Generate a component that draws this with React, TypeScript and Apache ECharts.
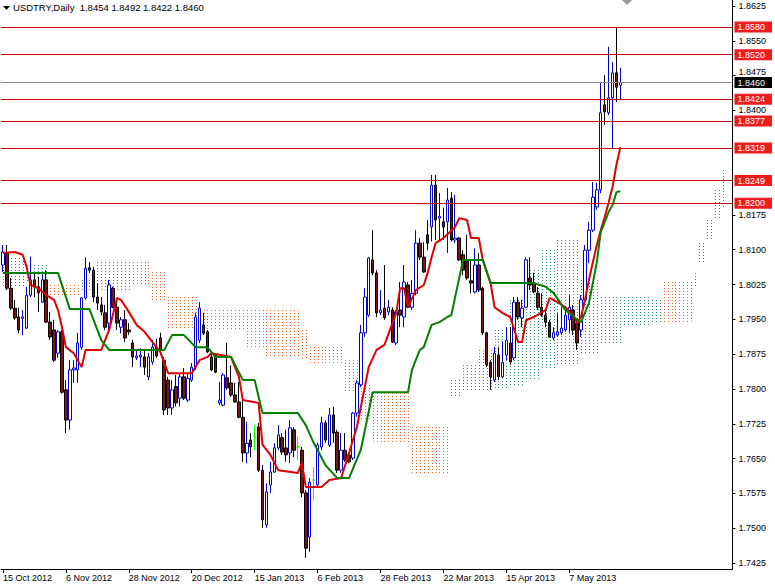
import React, { useEffect, useRef } from 'react';
import * as echarts from 'echarts';

// ---- data ----
const symbolTitle = 'USDTRY,Daily  1.8454 1.8492 1.8422 1.8460';
const firstDate = '2012-10-15';
const holidays = ['2012-12-25', '2013-01-01'];
const totalBars = 186; // 158 candles + forward-shifted cloud room
const dateLabelIdx = [0, 16, 32, 48, 64, 80, 96, 112, 128, 144];

// [open, close, low, high]
const candles: number[][] = [
  [1.8067, 1.8095, 1.8052, 1.8110], [1.8092, 1.8017, 1.8013, 1.8110], [1.8017, 1.7974, 1.7970, 1.8039],
  [1.7974, 1.7953, 1.7949, 1.7992], [1.7955, 1.7927, 1.7920, 1.7975], [1.7952, 1.7955, 1.7916, 1.7970],
  [1.7931, 1.8002, 1.7929, 1.8020], [1.8002, 1.8035, 1.7998, 1.8085], [1.8035, 1.8020, 1.7998, 1.8050],
  [1.8020, 1.8007, 1.7966, 1.8042], [1.7987, 1.8035, 1.7985, 1.8046], [1.8035, 1.7944, 1.7942, 1.8056],
  [1.7944, 1.7912, 1.7906, 1.7966], [1.7927, 1.7862, 1.7858, 1.7949], [1.7877, 1.7923, 1.7867, 1.7927],
  [1.7923, 1.7793, 1.7790, 1.7927], [1.7798, 1.7733, 1.7705, 1.7819], [1.7733, 1.7841, 1.7712, 1.7862],
  [1.7841, 1.7845, 1.7813, 1.7862], [1.7841, 1.7899, 1.7813, 1.7921], [1.7890, 1.7996, 1.7884, 1.7998],
  [1.7996, 1.8060, 1.7992, 1.8084], [1.8061, 1.8056, 1.8050, 1.8073], [1.8056, 1.7998, 1.7987, 1.8063],
  [1.7998, 1.7985, 1.7970, 1.8028], [1.7981, 1.7966, 1.7959, 1.7998], [1.7964, 1.7933, 1.7927, 1.7981],
  [1.7942, 1.8024, 1.7927, 1.8035], [1.8017, 1.7976, 1.7974, 1.8020], [1.7976, 1.7942, 1.7927, 1.7985],
  [1.7933, 1.7949, 1.7920, 1.7955], [1.7949, 1.7910, 1.7901, 1.7970], [1.7927, 1.7923, 1.7916, 1.7942],
  [1.7899, 1.7869, 1.7847, 1.7906], [1.7867, 1.7871, 1.7862, 1.7884], [1.7869, 1.7873, 1.7847, 1.7888],
  [1.7869, 1.7847, 1.7830, 1.7884], [1.7826, 1.7869, 1.7819, 1.7877], [1.7858, 1.7890, 1.7852, 1.7905],
  [1.7890, 1.7871, 1.7867, 1.7908], [1.7910, 1.7884, 1.7873, 1.7921], [1.7862, 1.7755, 1.7744, 1.7869],
  [1.7819, 1.7759, 1.7744, 1.7826], [1.7759, 1.7798, 1.7744, 1.7819], [1.7805, 1.7770, 1.7762, 1.7830],
  [1.7780, 1.7826, 1.7762, 1.7834], [1.7826, 1.7780, 1.7776, 1.7845], [1.7776, 1.7823, 1.7772, 1.7836],
  [1.7819, 1.7847, 1.7815, 1.7856], [1.7847, 1.7955, 1.7841, 1.7964], [1.7905, 1.7974, 1.7899, 1.7987],
  [1.7938, 1.7920, 1.7916, 1.7964], [1.7923, 1.7880, 1.7877, 1.7927], [1.7869, 1.7841, 1.7838, 1.7880],
  [1.7873, 1.7836, 1.7834, 1.7877], [1.7770, 1.7776, 1.7765, 1.7815], [1.7765, 1.7830, 1.7763, 1.7834],
  [1.7824, 1.7802, 1.7798, 1.7899], [1.7813, 1.7787, 1.7783, 1.7851], [1.7787, 1.7772, 1.7770, 1.7813],
  [1.7772, 1.7739, 1.7737, 1.7815], [1.7739, 1.7662, 1.7643, 1.7782], [1.7662, 1.7683, 1.7640, 1.7729],
  [1.7690, 1.7675, 1.7653, 1.7705], [1.7697, 1.7697, 1.7668, 1.7722], [1.7718, 1.7625, 1.7621, 1.7727],
  [1.7625, 1.7518, 1.7501, 1.7636], [1.7507, 1.7578, 1.7501, 1.7597], [1.7593, 1.7621, 1.7576, 1.7643],
  [1.7621, 1.7673, 1.7619, 1.7683], [1.7673, 1.7701, 1.7668, 1.7722], [1.7695, 1.7664, 1.7658, 1.7705],
  [1.7673, 1.7658, 1.7643, 1.7712], [1.7662, 1.7716, 1.7640, 1.7733], [1.7712, 1.7668, 1.7653, 1.7718],
  [1.7675, 1.7675, 1.7647, 1.7697], [1.7668, 1.7576, 1.7567, 1.7675], [1.7576, 1.7457, 1.7436, 1.7582],
  [1.7481, 1.7599, 1.7449, 1.7608], [1.7604, 1.7604, 1.7561, 1.7632], [1.7593, 1.7679, 1.7587, 1.7684],
  [1.7675, 1.7727, 1.7668, 1.7740], [1.7727, 1.7690, 1.7684, 1.7733], [1.7679, 1.7744, 1.7675, 1.7759],
  [1.7744, 1.7705, 1.7684, 1.7761], [1.7707, 1.7625, 1.7619, 1.7712], [1.7625, 1.7668, 1.7619, 1.7705],
  [1.7668, 1.7647, 1.7643, 1.7705], [1.7658, 1.7643, 1.7640, 1.7664], [1.7651, 1.7748, 1.7647, 1.7750],
  [1.7748, 1.7813, 1.7740, 1.7819], [1.7809, 1.7921, 1.7804, 1.7938], [1.7921, 1.7998, 1.7912, 1.8017],
  [1.7959, 1.8082, 1.7955, 1.8084], [1.8078, 1.8050, 1.8045, 1.8142], [1.8050, 1.7964, 1.7955, 1.8056],
  [1.7964, 1.7970, 1.7959, 1.8013], [1.7974, 1.7953, 1.7949, 1.8067], [1.7966, 1.7976, 1.7959, 1.7992],
  [1.7970, 1.7901, 1.7899, 1.7976], [1.7899, 1.7966, 1.7895, 1.7970], [1.7970, 1.7959, 1.7933, 1.8030],
  [1.7955, 1.8030, 1.7933, 1.8067], [1.8024, 1.7976, 1.7974, 1.8030], [1.7976, 1.8006, 1.7970, 1.8035],
  [1.8006, 1.8114, 1.8002, 1.8142], [1.8114, 1.8084, 1.8078, 1.8125], [1.8084, 1.8052, 1.8050, 1.8116],
  [1.8132, 1.8114, 1.8099, 1.8164], [1.8149, 1.8239, 1.8118, 1.8261], [1.8239, 1.8164, 1.8121, 1.8261],
  [1.8168, 1.8172, 1.8117, 1.8222], [1.8160, 1.8149, 1.8121, 1.8190], [1.8160, 1.8207, 1.8093, 1.8233],
  [1.8211, 1.8121, 1.8117, 1.8224], [1.8121, 1.8125, 1.8114, 1.8218], [1.8125, 1.8078, 1.8076, 1.8127],
  [1.8089, 1.8056, 1.8045, 1.8099], [1.8078, 1.8039, 1.8035, 1.8132], [1.8033, 1.8028, 1.8006, 1.8078],
  [1.8009, 1.8067, 1.8006, 1.8103], [1.8067, 1.8013, 1.8009, 1.8093], [1.8017, 1.7921, 1.7916, 1.8020],
  [1.7921, 1.7852, 1.7847, 1.7923], [1.7857, 1.7826, 1.7798, 1.7862], [1.7819, 1.7877, 1.7815, 1.7890],
  [1.7873, 1.7826, 1.7819, 1.7890], [1.7826, 1.7857, 1.7824, 1.7903], [1.7873, 1.7905, 1.7862, 1.7933],
  [1.7899, 1.7858, 1.7852, 1.7933], [1.7867, 1.7987, 1.7862, 1.7998], [1.7987, 1.7955, 1.7949, 1.7998],
  [1.7953, 1.7974, 1.7933, 1.7992], [1.7976, 1.8078, 1.7974, 1.8084], [1.8039, 1.8024, 1.8013, 1.8084],
  [1.8028, 1.8009, 1.8006, 1.8050], [1.8006, 1.7976, 1.7970, 1.8020], [1.7976, 1.7959, 1.7955, 1.8006],
  [1.7959, 1.7944, 1.7933, 1.7970], [1.7944, 1.7912, 1.7910, 1.7949], [1.7910, 1.7921, 1.7905, 1.7933],
  [1.7916, 1.7923, 1.7912, 1.7963], [1.7921, 1.7931, 1.7916, 1.7976], [1.7927, 1.7959, 1.7923, 1.7970],
  [1.7949, 1.7976, 1.7921, 1.8002], [1.7970, 1.7927, 1.7916, 1.7981], [1.7942, 1.7899, 1.7884, 1.7953],
  [1.7927, 1.7992, 1.7912, 1.8002], [1.7992, 1.8099, 1.7985, 1.8110], [1.8099, 1.8142, 1.8071, 1.8160],
  [1.8142, 1.8213, 1.8138, 1.8246], [1.8192, 1.8229, 1.8186, 1.8244], [1.8229, 1.8395, 1.8222, 1.8459],
  [1.8412, 1.8397, 1.8369, 1.8476], [1.8395, 1.8427, 1.8390, 1.8537], [1.8427, 1.8481, 1.8319, 1.8504],
  [1.8481, 1.8450, 1.8418, 1.8580], [1.8454, 1.8460, 1.8422, 1.8492],
];
const dojiIdx = [64, 75, 79];

// Tenkan-sen (red) read at bar indices: [bar, price]
const tenkan: number[][] = [
  [0, 1.8093], [3, 1.8095], [5, 1.8089], [6, 1.8063], [7, 1.8024], [9, 1.8017], [11, 1.8002], [13, 1.7992],
  [14, 1.7970], [15, 1.7933], [16, 1.7890], [18, 1.7877], [20, 1.7847], [21, 1.7884], [25, 1.7884], [27, 1.7927],
  [29, 1.7996], [30, 1.7992], [32, 1.7966], [34, 1.7938], [36, 1.7923], [39, 1.7890], [40, 1.7880], [42, 1.7834],
  [48, 1.7834], [50, 1.7862], [52, 1.7869], [53, 1.7877], [58, 1.7869], [59, 1.7847], [60, 1.7826], [61, 1.7776],
  [65, 1.7770], [66, 1.7680], [68, 1.7658], [70, 1.7625], [75, 1.7619], [76, 1.7641], [77, 1.7589], [81, 1.7589],
  [83, 1.7604], [86, 1.7608], [88, 1.7662], [90, 1.7718], [92, 1.7804], [93, 1.7847], [95, 1.7884], [97, 1.7895],
  [100, 1.7964], [101, 1.8017], [102, 1.8017], [103, 1.7976], [105, 1.8013], [107, 1.8024], [108, 1.8050],
  [109, 1.8084], [110, 1.8114], [112, 1.8125], [115, 1.8149], [116, 1.8168], [118, 1.8164], [119, 1.8125],
  [121, 1.8125], [122, 1.8078], [124, 1.8028], [125, 1.7976], [127, 1.7964], [129, 1.7955], [131, 1.7901],
  [132, 1.7901], [133, 1.7948], [135, 1.7955], [138, 1.7970], [139, 1.7996], [141, 1.7987], [143, 1.7976],
  [145, 1.7959], [146, 1.7942], [147, 1.7955], [148, 1.7992], [149, 1.8035], [150, 1.8073], [151, 1.8110],
  [152, 1.8142], [153, 1.8170], [154, 1.8201], [155, 1.8235], [156, 1.8283], [157, 1.8321],
];

// Kijun-sen (green) read at bar indices: [bar, price]
const kijun: number[][] = [
  [0, 1.8050], [14, 1.8050], [17, 1.7972], [22, 1.7972], [25, 1.7905], [27, 1.7884], [41, 1.7884], [43, 1.7916],
  [46, 1.7916], [49, 1.7890], [52, 1.7890], [54, 1.7869], [58, 1.7869], [61, 1.7819], [64, 1.7819], [66, 1.7748],
  [75, 1.7748], [77, 1.7722], [79, 1.7684], [82, 1.7636], [85, 1.7608], [88, 1.7608], [91, 1.7669], [94, 1.7793],
  [103, 1.7793], [104, 1.7841], [106, 1.7884], [107, 1.7890], [109, 1.7938], [111, 1.7944], [113, 1.7955],
  [114, 1.7959], [117, 1.8078], [122, 1.8078], [124, 1.8028], [135, 1.8028], [138, 1.8020], [140, 1.8007],
  [143, 1.7970], [146, 1.7949], [147, 1.7944], [149, 1.7985], [151, 1.8072], [152, 1.8138], [154, 1.8181],
  [155, 1.8196], [156, 1.8224], [157, 1.8226],
];

// Kumo blocks: [first bar, last bar, upper, lower, 1 = bearish (orange) / 0 = bullish (teal)]
const kumo: number[][] = [
  [0, 5, 1.8082, 1.8020, 0], [6, 11, 1.8067, 1.8028, 0], [12, 19, 1.8024, 1.8002, 1], [20, 23, 1.8035, 1.8013, 0],
  [24, 32, 1.8074, 1.8009, 0], [33, 37, 1.8074, 1.8024, 1], [38, 41, 1.8052, 1.7992, 1], [42, 49, 1.7998, 1.7927, 1],
  [50, 61, 1.7970, 1.7927, 1], [62, 66, 1.7970, 1.7890, 1], [67, 75, 1.7970, 1.7867, 1], [76, 77, 1.7927, 1.7867, 1],
  [78, 86, 1.7890, 1.7856, 1], [87, 90, 1.7862, 1.7791, 1], [91, 93, 1.7808, 1.7733, 1], [94, 103, 1.7791, 1.7683, 1],
  [104, 113, 1.7718, 1.7615, 1], [114, 116, 1.7820, 1.7780, 0], [117, 120, 1.7852, 1.7793, 0],
  [121, 124, 1.7884, 1.7793, 0], [125, 128, 1.7927, 1.7798, 0], [129, 132, 1.7992, 1.7808, 0],
  [133, 136, 1.8056, 1.7819, 0], [137, 140, 1.8099, 1.7841, 0], [141, 146, 1.8121, 1.7852, 0],
  [147, 151, 1.8035, 1.7873, 0], [152, 157, 1.7998, 1.7895, 0], [158, 164, 1.7998, 1.7934, 0],
  [165, 167, 1.7992, 1.7944, 0], [168, 175, 1.8030, 1.7942, 1], [176, 176, 1.8050, 1.8020, 0],
  [177, 178, 1.8114, 1.8071, 0], [179, 180, 1.8164, 1.8121, 0], [181, 182, 1.8229, 1.8164, 0],
  [183, 183, 1.8272, 1.8192, 0],
];

const levels = [1.858, 1.852, 1.8424, 1.8377, 1.8319, 1.8249, 1.82];
const lastPrice = 1.846;
const priceTicks = [1.8625, 1.855, 1.8475, 1.84, 1.8175, 1.81, 1.8025, 1.795, 1.7875, 1.78, 1.7725, 1.765, 1.7575, 1.75, 1.7425];
const Y_MIN = 1.74121;
const Y_MAX = 1.86379;

// ---- helpers ----
const MONTHS = ['Jan', 'Feb', 'Mar', 'Apr', 'May', 'Jun', 'Jul', 'Aug', 'Sep', 'Oct', 'Nov', 'Dec'];
function tradingDays(start: string, n: number): string[] {
  const out: string[] = [];
  const d = new Date(start + 'T00:00:00Z');
  while (out.length < n) {
    const dow = d.getUTCDay();
    const iso = d.toISOString().slice(0, 10);
    if (dow !== 0 && dow !== 6 && !holidays.includes(iso)) {
      out.push(`${d.getUTCDate()} ${MONTHS[d.getUTCMonth()]} ${d.getUTCFullYear()}`);
    }
    d.setUTCDate(d.getUTCDate() + 1);
  }
  return out;
}

const FONT = '"Liberation Sans", Arial, sans-serif';
const ORANGE = '#f06224';
const TEAL = '#2f8a74';
const LIME = '#00ff00';

export default function App() {
  const ref = useRef<HTMLDivElement>(null);
  useEffect(() => {
    document.body.style.margin = '0';
    if (!ref.current) return;
    const chart = echarts.init(ref.current, undefined, { renderer: 'svg' });
    const dates = tradingDays(firstDate, totalBars);
    const showLabel = (i: number) => dateLabelIdx.includes(i);

    const kumoData: number[][] = [];
    kumo.forEach(([a, b, top, bot, bear]) => {
      for (let i = a; i <= b; i++) kumoData.push([i, top, bot, bear]);
    });

    const candleData = candles.map((c, i) =>
      dojiIdx.includes(i)
        ? { value: c, itemStyle: { color: LIME, color0: LIME, borderColor: LIME, borderColor0: LIME } }
        : c
    );

    chart.setOption({
      animation: false,
      backgroundColor: '#ffffff',
      title: {
        text: symbolTitle,
        left: 13,
        top: 2,
        padding: 0,
        textStyle: { fontSize: 9.5, fontWeight: 'normal', color: '#000', fontFamily: FONT },
      },
      graphic: [
        { type: 'polygon', shape: { points: [[3, 6], [10, 6], [6.5, 10]] }, style: { fill: '#000' }, z: 100 },
        { type: 'polygon', shape: { points: [[622, 0], [632, 0], [627, 5]] }, style: { fill: '#9a9a9a' }, z: 100 },
      ],
      grid: { left: -4, right: 35, top: 0, bottom: 17, containLabel: false },
      xAxis: {
        type: 'category',
        data: dates,
        boundaryGap: true,
        axisLine: { show: true, lineStyle: { color: '#000', width: 1 } },
        axisTick: { show: true, alignWithLabel: true, interval: (i: number) => showLabel(i), length: 4, lineStyle: { color: '#000' } },
        axisLabel: {
          interval: (i: number) => showLabel(i),
          align: 'left',
          margin: 4,
          fontSize: 9,
          color: '#000',
          fontFamily: FONT,
        },
        splitLine: { show: false },
      },
      yAxis: [
        {
          type: 'value',
          position: 'right',
          min: Y_MIN,
          max: Y_MAX,
          axisLine: { show: true, lineStyle: { color: '#000', width: 1 } },
          axisTick: { show: true, customValues: priceTicks, length: 3, lineStyle: { color: '#000' } },
          axisLabel: {
            customValues: priceTicks,
            formatter: (v: number) => (Math.abs(v - 1.8475) < 1e-9 ? `{up|${v.toFixed(4)}}` : v.toFixed(4)),
            margin: 6,
            fontSize: 9,
            color: '#000',
            fontFamily: FONT,
            rich: {
              up: { fontSize: 9, fontFamily: FONT, color: '#000', lineHeight: 9, padding: [0, 0, 7, 0] },
            },
          },
          splitLine: { show: false },
        },
        {
          type: 'value',
          position: 'right',
          min: Y_MIN,
          max: Y_MAX,
          z: 10,
          axisLine: { show: false },
          axisTick: { show: false },
          axisLabel: {
            customValues: [...levels, lastPrice],
            formatter: (v: number) => (Math.abs(v - lastPrice) < 1e-9 ? `{k|${v.toFixed(4)}}` : `{r|${v.toFixed(4)}}`),
            margin: 2,
            rich: {
              r: { backgroundColor: '#ee1c1c', color: '#fff', fontSize: 9, fontFamily: FONT, lineHeight: 10, padding: [1, 7, 1, 3] },
              k: { backgroundColor: '#000', color: '#fff', fontSize: 9, fontFamily: FONT, lineHeight: 10, padding: [1, 7, 1, 3] },
            },
          },
          splitLine: { show: false },
        },
      ],
      series: [
        {
          name: 'Kumo',
          type: 'custom',
          z: 1,
          silent: true,
          data: kumoData,
          encode: { x: 0, y: [1, 2] },
          renderItem: (_params: any, api: any) => {
            const i = api.value(0);
            const p1 = api.coord([i, api.value(1)]);
            const p2 = api.coord([i, api.value(2)]);
            const x = Math.round(p1[0]) + 0.5;
            const yTop = Math.round(Math.min(p1[1], p2[1]));
            const yBot = Math.round(Math.max(p1[1], p2[1]));
            return {
              type: 'line',
              shape: { x1: x, y1: yTop, x2: x, y2: yBot },
              style: { stroke: api.value(3) ? ORANGE : TEAL, lineWidth: 1, lineDash: [1, 2] },
              silent: true,
            };
          },
        },
        {
          name: 'USDTRY',
          type: 'candlestick',
          z: 2,
          barWidth: 3,
          data: candleData,
          itemStyle: {
            color: '#ffffff',
            color0: '#7a1515',
            borderColor: '#0000cc',
            borderColor0: '#000000',
            borderWidth: 1,
          },
        },
        {
          name: 'Tenkan-sen',
          type: 'line',
          z: 3,
          data: tenkan,
          showSymbol: false,
          symbol: 'none',
          lineStyle: { color: '#e00000', width: 2 },
        },
        {
          name: 'Kijun-sen',
          type: 'line',
          z: 3,
          data: kijun,
          showSymbol: false,
          symbol: 'none',
          lineStyle: { color: '#008000', width: 2 },
          markLine: {
            silent: true,
            precision: 4,
            symbol: ['none', 'none'],
            label: { show: false },
            z: 4,
            data: [
              ...levels.map((v) => ({ yAxis: v, lineStyle: { color: '#cc0000', width: 1, type: 'solid' } })),
              { yAxis: lastPrice, lineStyle: { color: '#8a8a8a', width: 1, type: 'solid' } },
            ],
          },
        },
      ],
    });
    return () => chart.dispose();
  }, []);
  return <div ref={ref} style={{ width: 775, height: 586 }} />;
}
